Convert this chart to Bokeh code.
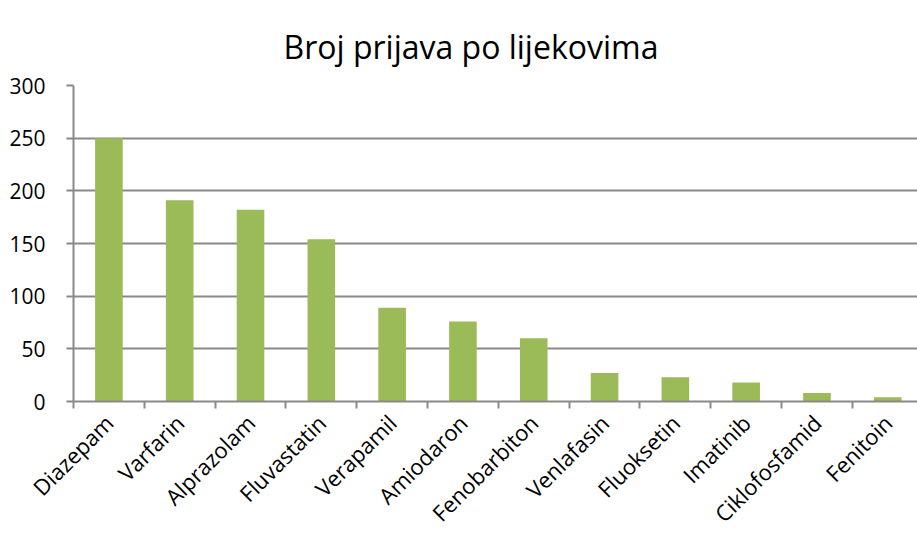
import math
from bokeh.plotting import figure
from bokeh.models import Range1d, FixedTicker
from bokeh.embed import file_html
from bokeh.resources import INLINE

title_text = "Broj prijava po lijekovima"
drugs = ["Diazepam", "Varfarin", "Alprazolam", "Fluvastatin", "Verapamil", "Amiodaron",
         "Fenobarbiton", "Venlafasin", "Fluoksetin", "Imatinib", "Ciklofosfamid", "Fenitoin"]
counts = [250, 191, 182, 154, 89, 76, 60, 27, 23, 18, 8, 4]
y_ticks = [0, 50, 100, 150, 200, 250, 300]

x_pos = [i + 0.5 for i in range(len(drugs))]
boundaries = list(range(len(drugs) + 1))

FONT = "Open Sans"
GRAY = "#898989"

p = figure(width=917, height=541, output_backend="svg", toolbar_location=None,
           x_range=Range1d(0, 11.92), y_range=Range1d(0, 300),
           min_border_left=73, min_border_right=0, min_border_top=85, min_border_bottom=139)

p.vbar(x=x_pos, top=counts, width=0.39, fill_color="#9BBB59", line_color=None)

p.title.text = title_text
p.title.align = "left"
p.title.offset = 210
p.title.standoff = 36
p.title.text_font = FONT
p.title.text_font_size = "32px"
p.title.text_font_style = "normal"
p.title.text_color = "black"

p.outline_line_color = None
p.xgrid.visible = False
p.ygrid.ticker = FixedTicker(ticks=y_ticks)
p.ygrid.grid_line_color = GRAY
p.ygrid.grid_line_width = 2

ya = p.yaxis[0]
ya.ticker = FixedTicker(ticks=y_ticks)
ya.axis_line_color = GRAY
ya.axis_line_width = 2
ya.major_tick_line_color = GRAY
ya.major_tick_line_width = 2
ya.major_tick_out = 7
ya.major_tick_in = 0
ya.minor_tick_line_color = None
ya.major_label_standoff = 21
ya.major_label_text_font = FONT
ya.major_label_text_font_size = "21px"
ya.major_label_text_color = "black"

xa = p.xaxis[0]
xa.ticker = FixedTicker(ticks=x_pos, minor_ticks=boundaries)
xa.major_label_overrides = {x: name for x, name in zip(x_pos, drugs)}
xa.axis_line_color = GRAY
xa.axis_line_width = 2
xa.major_tick_line_color = None
xa.minor_tick_line_color = GRAY
xa.minor_tick_line_width = 2
xa.minor_tick_out = 7
xa.minor_tick_in = 0
xa.major_label_orientation = math.pi / 4
xa.major_label_standoff = 10
xa.major_label_text_font = FONT
xa.major_label_text_font_size = "22px"
xa.major_label_text_color = "black"

open("out.html", "w").write(file_html(p, INLINE))
